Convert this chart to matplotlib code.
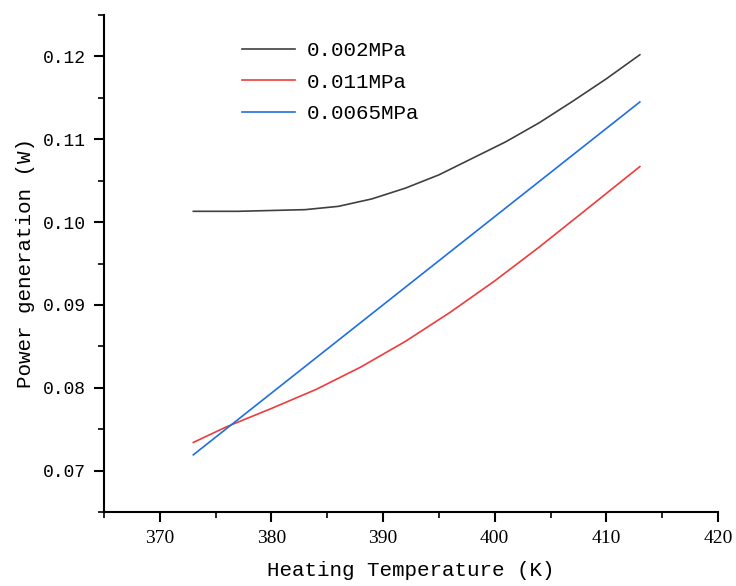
import numpy as np
import matplotlib
matplotlib.use("Agg")
import matplotlib.pyplot as plt
from matplotlib.ticker import MultipleLocator

# data
temp_002 = [373, 377, 380, 383, 386, 389, 392, 395, 398, 401, 404, 407, 410, 413]
p_002 = [0.1013, 0.1013, 0.1014, 0.1015, 0.1019, 0.1028, 0.1041, 0.1057, 0.1077, 0.1097, 0.1120, 0.1146, 0.1173, 0.1202]
temp_011 = [373, 376, 380, 384, 388, 392, 396, 400, 404, 408, 413]
p_011 = [0.0734, 0.0753, 0.0775, 0.0798, 0.0825, 0.0856, 0.0891, 0.0929, 0.0970, 0.1013, 0.1067]
temp_0065 = [373, 396, 413]
p_0065 = [0.0719, 0.0964, 0.1145]
labels = ["0.002MPa", "0.011MPa", "0.0065MPa"]

plt.rcParams['font.family'] = ['Liberation Mono', 'DejaVu Sans']

fig = plt.figure(figsize=(7.36, 5.86), dpi=100)
ax = fig.add_axes([104/736, 1-512/586, 614/736, 497/586])

ax.plot(temp_002, p_002, color='#404040', lw=1.2, label=labels[0])
ax.plot(temp_011, p_011, color='#ee3b3b', lw=1.2, label=labels[1])
ax.plot(temp_0065, p_0065, color='#1f6fe3', lw=1.2, label=labels[2])

ax.set_xlim(365, 420)
ax.set_ylim(0.065, 0.125)
ax.xaxis.set_minor_locator(MultipleLocator(5))
ax.yaxis.set_minor_locator(MultipleLocator(0.005))
ax.set_xticks([370, 380, 390, 400, 410, 420])
ax.set_xticklabels(['370', '380', '390', '400', '410', '420'], fontfamily='Liberation Serif', fontsize=14)
ax.set_yticks([0.07, 0.08, 0.09, 0.10, 0.11, 0.12])
ax.set_yticklabels(['0.07', '0.08', '0.09', '0.10', '0.11', '0.12'], fontsize=13)

ax.spines['top'].set_visible(False)
ax.spines['right'].set_visible(False)
for s in ['left', 'bottom']:
    ax.spines[s].set_linewidth(1.5)
ax.tick_params(which='major', direction='out', length=7, width=1.5, pad=6)
ax.tick_params(which='minor', direction='out', length=4, width=1.2)

ax.set_xlabel('Heating Temperature (K)', fontsize=15, labelpad=10)
ax.set_ylabel('Power generation (W)', fontsize=15, labelpad=6)

ax.legend(loc='upper left', bbox_to_anchor=(0.195, 0.985), frameon=False,
          fontsize=15, handlelength=2.5, handletextpad=0.6, labelspacing=0.6)

fig.savefig('out.png', dpi=100)
